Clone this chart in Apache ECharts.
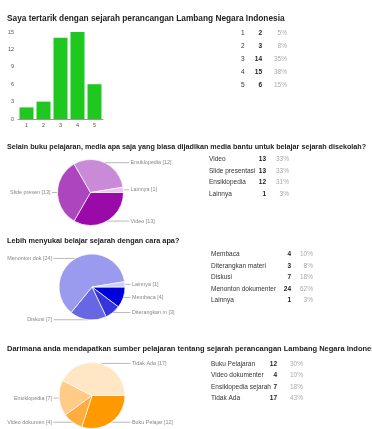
<!DOCTYPE html>
<html>
<head>
<meta charset="utf-8">
<script src="https://cdn.jsdelivr.net/npm/echarts@6/dist/echarts.min.js"></script>
<style>
html,body{margin:0;padding:0;background:#fff;}
#c{width:372px;height:429px;}
</style>
</head>
<body>
<div id="c"></div>
<script>
// ---- data ----
const titles = [
  'Saya tertarik dengan sejarah perancangan Lambang Negara Indonesia',
  'Selain buku pelajaran, media apa saja yang biasa dijadikan media bantu untuk belajar sejarah disekolah?',
  'Lebih menyukai belajar sejarah dengan cara apa?',
  'Darimana anda mendapatkan sumber pelajaran tentang sejarah perancangan Lambang Negara Indonesia'
];
const barCategories = ['1', '2', '3', '4', '5'];
const barValues = [2, 3, 14, 15, 6];
const barAxisMin = 0, barAxisMax = 15, barAxisStep = 3;

const q2Names = ['Video', 'Slide presentasi', 'Ensiklopedia', 'Lainnya'];
const q2Short = ['Video', 'Slide presen', 'Ensiklopedia', 'Lainnya'];
const q2Values = [13, 13, 12, 1];

const q3Names = ['Membaca', 'Diterangkan materi', 'Diskusi', 'Menonton dokumenter', 'Lainnya'];
const q3Short = ['Membaca', 'Diterangkan m', 'Diskusi', 'Menonton dok', 'Lainnya'];
const q3Values = [4, 3, 7, 24, 1];

const q4Names = ['Buku Pelajaran', 'Video dokumenter', 'Ensiklopedia sejarah', 'Tidak Ada'];
const q4Short = ['Buku Pelajar', 'Video dokumen', 'Ensiklopedia', 'Tidak Ada'];
const q4Values = [12, 4, 7, 17];

// ---- styles / layout ----
const FONT = 'Liberation Sans, Arial, sans-serif';
const q2Colors = ['#990aa8', '#ac46bf', '#c98bd8', '#ebc6f0'];
const q3Colors = ['#0000dd', '#3535dc', '#6767e4', '#9a9aee', '#cdcdf6'];
const q4Colors = ['#ff9900', '#ffad3e', '#ffcb87', '#ffe6c4'];
const titleCenters = [18.3, 146.7, 241, 349];
const titleSizes = [8.3, 7.2, 7.3, 7.5];
const PIE_R = 33;

function pct(v, arr) {
  const s = arr.reduce((a, b) => a + b, 0);
  return Math.round(v / s * 100) + '%';
}

function tableGraphics(names, values, x0, xVal, xPct, y0, dy) {
  const out = [];
  names.forEach((n, i) => {
    const y = y0 + dy * i;
    out.push({type: 'text', x: x0, y: y, silent: true,
      style: {text: n, fontSize: 6.5, fontFamily: FONT, fill: '#333', align: 'left', verticalAlign: 'middle'}});
    out.push({type: 'text', x: xVal, y: y, silent: true,
      style: {text: String(values[i]), fontSize: 6.5, fontWeight: 'bold', fontFamily: FONT, fill: '#222', align: 'right', verticalAlign: 'middle'}});
    out.push({type: 'text', x: xPct, y: y, silent: true,
      style: {text: pct(values[i], values), fontSize: 6.5, fontFamily: FONT, fill: '#aaa', align: 'right', verticalAlign: 'middle'}});
  });
  return out;
}

function pieSeries(names, shorts, values, colors, center) {
  const cx = center[0];
  return {
    type: 'pie',
    center: center,
    radius: PIE_R,
    startAngle: 0,
    clockwise: true,
    animation: false,
    silent: true,
    avoidLabelOverlap: false,
    itemStyle: {borderColor: '#fff', borderWidth: 0.7},
    label: {
      show: true, position: 'outside',
      fontSize: 5.4, fontFamily: FONT, color: '#888',
      formatter: p => shorts[p.dataIndex] + ' [' + p.value + ']'
    },
    labelLine: {show: true, length: 2, length2: 4, lineStyle: {color: '#999', width: 0.7}},
    labelLayout: function (params) {
      const pts = params.labelLinePoints;
      if (!pts) return {};
      const p0 = pts[0];
      const left = p0[0] < cx;
      const endX = left ? cx - PIE_R - 5.5 : cx + PIE_R + 5.5;
      return {
        x: left ? endX - 1.5 : endX + 1.5,
        y: p0[1],
        align: left ? 'right' : 'left',
        verticalAlign: 'middle',
        labelLinePoints: [[p0[0], p0[1]], [(p0[0] + endX) / 2, p0[1]], [endX, p0[1]]]
      };
    },
    data: names.map((n, i) => ({name: n, value: values[i], itemStyle: {color: colors[i]}}))
  };
}

const chart = echarts.init(document.getElementById('c'), null, {renderer: 'canvas'});
const graphics = []
  .concat(tableGraphics(barCategories, barValues, 241, 262, 287, 33, 13.15))
  .concat(tableGraphics(q2Names, q2Values, 209, 266, 289, 159.3, 11.7))
  .concat(tableGraphics(q3Names, q3Values, 211, 291, 313, 254.3, 11.6))
  .concat(tableGraphics(q4Names, q4Values, 211, 277, 303, 364.3, 11.4));

chart.setOption({
  animation: false,
  backgroundColor: '#fff',
  title: titles.map((t, i) => ({
    text: t, left: 7, top: titleCenters[i] - 5, padding: 0,
    textStyle: {fontSize: titleSizes[i], fontWeight: 'bold', color: '#222', fontFamily: FONT, lineHeight: 10}
  })),
  grid: {left: 18, top: 32, width: 85, height: 87},
  xAxis: {
    type: 'category', data: barCategories,
    axisLine: {lineStyle: {color: '#999', width: 1}},
    axisTick: {show: false},
    axisLabel: {fontSize: 5.5, color: '#555', fontFamily: FONT, margin: 3}
  },
  yAxis: {
    type: 'value', min: barAxisMin, max: barAxisMax, interval: barAxisStep,
    axisLine: {show: false}, axisTick: {show: false}, splitLine: {show: false},
    axisLabel: {fontSize: 5.5, color: '#555', fontFamily: FONT, margin: 4}
  },
  series: [
    {type: 'bar', data: barValues, barWidth: 14, silent: true,
     itemStyle: {color: '#1ec81e'}},
    pieSeries(q2Names, q2Short, q2Values, q2Colors, [90.5, 192.5]),
    pieSeries(q3Names, q3Short, q3Values, q3Colors, [92, 287]),
    pieSeries(q4Names, q4Short, q4Values, q4Colors, [92, 395.5])
  ],
  graphic: graphics
});
</script>
</body>
</html>
